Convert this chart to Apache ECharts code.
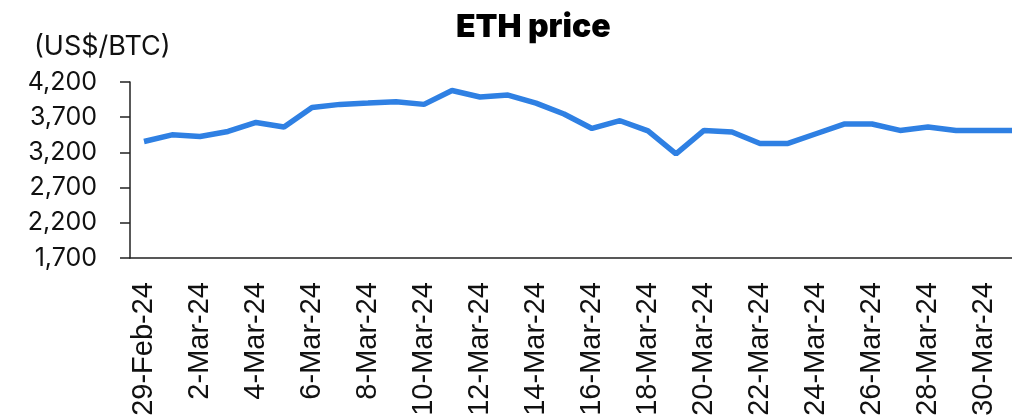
<!DOCTYPE html>
<html>
<head>
<meta charset="utf-8">
<script src="https://cdn.jsdelivr.net/npm/echarts@6/dist/echarts.min.js"></script>
<style>html,body{margin:0;padding:0;background:#fff;}#c{width:1012px;height:420px;}</style>
</head>
<body>
<div id="c"></div>
<script>
const categories = ['29-Feb-24','1-Mar-24','2-Mar-24','3-Mar-24','4-Mar-24','5-Mar-24','6-Mar-24','7-Mar-24','8-Mar-24','9-Mar-24','10-Mar-24','11-Mar-24','12-Mar-24','13-Mar-24','14-Mar-24','15-Mar-24','16-Mar-24','17-Mar-24','18-Mar-24','19-Mar-24','20-Mar-24','21-Mar-24','22-Mar-24','23-Mar-24','24-Mar-24','25-Mar-24','26-Mar-24','27-Mar-24','28-Mar-24','29-Mar-24','30-Mar-24','31-Mar-24'];
const ethPrice = [3355,3450,3426,3497,3625,3560,3839,3882,3900,3920,3882,4080,3987,4015,3900,3745,3540,3650,3507,3180,3512,3489,3327,3327,3465,3603,3603,3512,3560,3512,3512,3512];
const yMin = 1700, yMax = 4200, yStep = 500;
const titleText = 'ETH price';
const unitText = '(US$/BTC)';

const chart = echarts.init(document.getElementById('c'), null, {renderer:'canvas'});
chart.setOption({
  animation:false,
  backgroundColor:'#fff',
  title:{text:titleText,left:451,top:6,textStyle:{fontFamily:'Inter',fontWeight:900,fontSize:32,color:'#000'}},
  graphic:[{type:'text',left:34,top:33,style:{text:unitText,font:'27px Inter',fill:'#111'}}],
  grid:{left:130,width:896,top:82,height:176,containLabel:false,outerBoundsMode:'none'},
  xAxis:{type:'category',data:categories,boundaryGap:true,
    axisLine:{lineStyle:{color:'#222',width:1.5}},
    axisTick:{interval:1,length:10,lineStyle:{color:'#222',width:1.5}},
    axisLabel:{interval:1,rotate:90,margin:24,fontFamily:'Liberation Sans',fontSize:29,color:'#111'},
    splitLine:{show:false}},
  yAxis:{type:'value',min:yMin,max:yMax,interval:yStep,
    axisLine:{show:true,lineStyle:{color:'#222',width:1.5}},
    axisTick:{show:true,length:10,lineStyle:{color:'#222',width:1.5}},
    axisLabel:{margin:33,fontFamily:'Inter',fontSize:25,color:'#111',formatter:v=>v.toLocaleString('en-US')},
    splitLine:{show:false}},
  series:[{type:'line',data:ethPrice,symbol:'none',lineStyle:{color:'#2F80E3',width:5.5}}]
});
</script>
</body>
</html>
